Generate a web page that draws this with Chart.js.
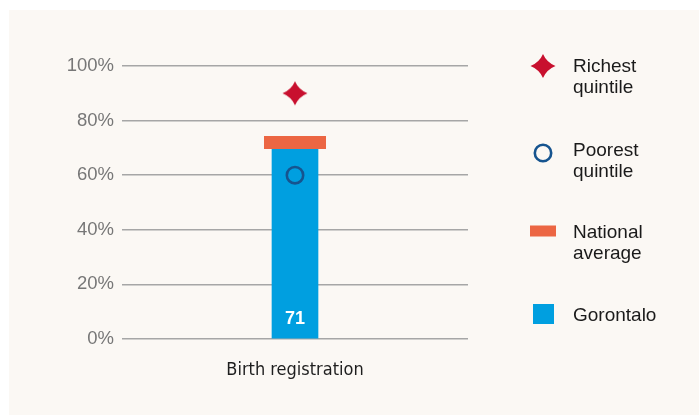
<!DOCTYPE html>
<html>
<head>
<meta charset="utf-8">
<script src="https://cdn.jsdelivr.net/npm/chart.js@4"></script>
<style>
  html, body { margin: 0; padding: 0; background: #fff; }
  #panel { position: absolute; left: 9px; top: 10px; width: 690px; height: 405px; background: #fbf8f4; }
</style>
</head>
<body>
<div id="panel"><canvas id="chart" width="690" height="405"></canvas></div>
<script>
'use strict';

const categories   = ['Birth registration'];
const gorontalo    = [71];
const nationalAvg  = [72];
const richest      = [90];
const poorest      = [60];
const yTicks       = [0, 20, 40, 60, 80, 100];
const legendLabels = ['Richest quintile', 'Poorest quintile', 'National average', 'Gorontalo'];

const C = { red: '#c8102e', navy: '#16548f', orange: '#ec6643', blue: '#009fe0', grid: '#a6a6a6' };
const SANS = '"Liberation Sans", Arial, Helvetica, sans-serif';
const NARROW = '"Liberation Sans Narrow", "DejaVu Sans Condensed", "Liberation Sans", sans-serif';

function starPath(ctx, cx, cy, rx, ry, k) {
  ctx.beginPath();
  ctx.moveTo(cx, cy - ry);
  ctx.quadraticCurveTo(cx + k, cy - k, cx + rx, cy);
  ctx.quadraticCurveTo(cx + k, cy + k, cx, cy + ry);
  ctx.quadraticCurveTo(cx - k, cy + k, cx - rx, cy);
  ctx.quadraticCurveTo(cx - k, cy - k, cx, cy - ry);
  ctx.closePath();
}

function makeStar() {
  const c = document.createElement('canvas');
  c.width = 26; c.height = 26;
  const ctx = c.getContext('2d');
  ctx.fillStyle = C.red;
  starPath(ctx, 13, 13, 12.5, 12, 3.6);
  ctx.fill();
  return c;
}

function makeRect(w, h, color) {
  const c = document.createElement('canvas');
  c.width = w; c.height = h;
  const ctx = c.getContext('2d');
  ctx.fillStyle = color;
  ctx.fillRect(0, 0, w, h);
  return c;
}

const starImg = makeStar();
const avgImg = makeRect(62, 13, C.orange);

// value label inside the bar, near its base
const barLabel = {
  id: 'barLabel',
  afterDatasetsDraw(chart) {
    const meta = chart.getDatasetMeta(3);
    const y0 = chart.scales.y.getPixelForValue(0);
    const ctx = chart.ctx;
    ctx.save();
    ctx.fillStyle = '#fff';
    ctx.font = 'bold 18px ' + SANS;
    ctx.textAlign = 'center';
    ctx.textBaseline = 'alphabetic';
    meta.data.forEach((bar, i) => ctx.fillText(String(gorontalo[i]), bar.x, y0 - 15));
    ctx.restore();
  }
};

// legend on the right, one item per series
const sideLegend = {
  id: 'sideLegend',
  afterDraw(chart) {
    const ctx = chart.ctx;
    const ix = 534, tx = 564;
    const items = [
      { cy: 56,  base: 61.5 },
      { cy: 143, base: 145.5 },
      { cy: 221, base: 227.5 },
      { cy: 304, base: 310.5 },
    ];
    ctx.save();
    // icons
    ctx.fillStyle = C.red;
    starPath(ctx, ix, items[0].cy, 12.5, 12, 3.6);
    ctx.fill();
    ctx.strokeStyle = C.navy; ctx.lineWidth = 2.6;
    ctx.beginPath(); ctx.arc(ix, items[1].cy, 8.2, 0, Math.PI * 2); ctx.stroke();
    ctx.fillStyle = C.orange;
    ctx.fillRect(ix - 13, items[2].cy - 5.5, 26, 11);
    ctx.fillStyle = C.blue;
    ctx.fillRect(ix - 10, items[3].cy - 10, 21, 20);
    // labels
    ctx.fillStyle = '#1a1a1a';
    ctx.font = '19px ' + SANS;
    ctx.textAlign = 'left';
    ctx.textBaseline = 'alphabetic';
    legendLabels.forEach((lbl, i) => {
      lbl.split(' ').forEach((line, j) => ctx.fillText(line, tx, items[i].base + j * 21.5));
    });
    ctx.restore();
  }
};

new Chart(document.getElementById('chart'), {
  type: 'bar',
  data: {
    labels: categories,
    datasets: [
      { type: 'line', label: legendLabels[0], data: richest, showLine: false,
        pointStyle: starImg, pointRadius: 13, order: 1 },
      { type: 'line', label: legendLabels[1], data: poorest, showLine: false,
        pointStyle: 'circle', pointRadius: 8.2, pointBorderWidth: 2.6,
        pointBorderColor: C.navy, pointBackgroundColor: 'rgba(0,0,0,0)', order: 2 },
      { type: 'line', label: legendLabels[2], data: nationalAvg, showLine: false,
        pointStyle: avgImg, pointRadius: 8, order: 3 },
      { type: 'bar', label: legendLabels[3], data: gorontalo, backgroundColor: C.blue,
        barThickness: 46, order: 10 },
    ],
  },
  options: {
    responsive: false,
    animation: false,
    events: [],
    layout: { padding: { top: 56, right: 231, bottom: 0, left: 0 } },
    plugins: { legend: { display: false }, tooltip: { enabled: false } },
    scales: {
      x: {
        grid: { display: false },
        border: { display: false },
        ticks: { color: '#1e1e1e', font: { family: NARROW, size: 18 }, padding: 13 },
        afterFit(s) { s.height = 76; },
      },
      y: {
        min: 0, max: 100,
        afterBuildTicks(s) { s.ticks = yTicks.map(v => ({ value: v })); },
        grid: { color: C.grid, lineWidth: 1.6, drawTicks: false },
        border: { display: false },
        ticks: { color: '#777', font: { family: SANS, size: 18.5 }, padding: 8,
                 callback: v => v + '%' },
        afterFit(s) { s.width = 113; },
      },
    },
  },
  plugins: [barLabel, sideLegend],
});
</script>
</body>
</html>
